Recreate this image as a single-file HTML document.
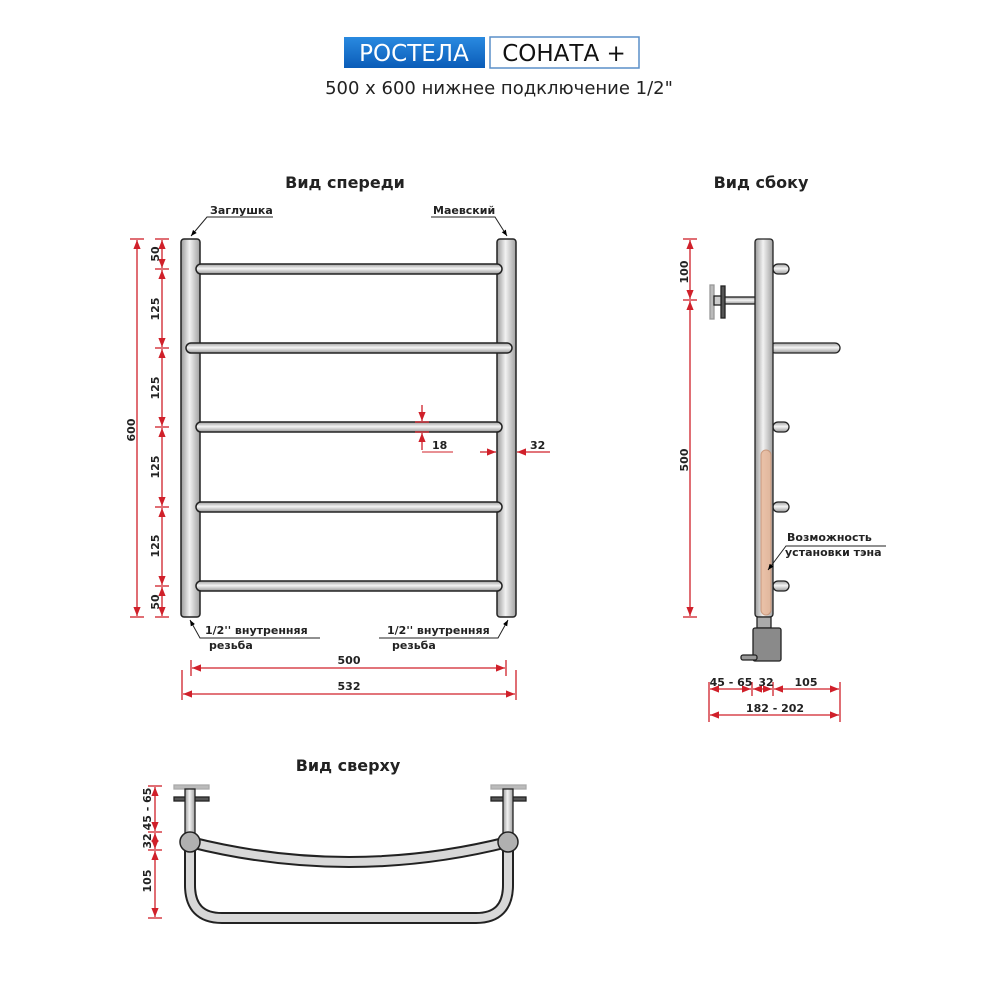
<!DOCTYPE html>
<html><head><meta charset="utf-8"><style>
html,body{margin:0;padding:0;background:#fff}
svg{display:block}
text{font-family:"DejaVu Sans","Liberation Sans",sans-serif}
</style></head><body>
<svg width="1000" height="1000" viewBox="0 0 1000 1000" xmlns="http://www.w3.org/2000/svg">
<defs>
<linearGradient id="gv" x1="0" x2="1" y1="0" y2="0">
<stop offset="0" stop-color="#9a9a9a"/><stop offset="0.45" stop-color="#f2f2f2"/><stop offset="1" stop-color="#a0a0a0"/></linearGradient>
<linearGradient id="gh" x1="0" x2="0" y1="0" y2="1">
<stop offset="0" stop-color="#a0a0a0"/><stop offset="0.45" stop-color="#f4f4f4"/><stop offset="1" stop-color="#9a9a9a"/></linearGradient>
<linearGradient id="gb" x1="0" x2="0" y1="0" y2="1">
<stop offset="0" stop-color="#2a8ae0"/><stop offset="1" stop-color="#0a5cb8"/></linearGradient>
<marker id="a" viewBox="0 0 10 10" refX="10" refY="5" markerWidth="7" markerHeight="7" orient="auto-start-reverse"><path d="M0,1 L10,5 L0,9 z" fill="#d0202a"/></marker>
<marker id="k" viewBox="0 0 10 10" refX="10" refY="5" markerWidth="6" markerHeight="6" orient="auto"><path d="M0,1 L10,5 L0,9 z" fill="#000"/></marker>
</defs>

<rect x="344" y="37" width="141" height="31" fill="url(#gb)"/>
<text x="414" y="61" font-size="23" fill="#fff" text-anchor="middle" font-family="Liberation Sans">РОСТЕЛА</text>
<rect x="490" y="37" width="149" height="31" fill="#fff" stroke="#5a8fc8" stroke-width="1.5"/>
<text x="564" y="61" font-size="23" fill="#111" text-anchor="middle" font-family="Liberation Sans">СОНАТА +</text>
<text x="499" y="94" font-size="18" fill="#222" text-anchor="middle">500 x 600 нижнее подключение 1/2"</text>

<text x="345" y="188" font-size="16" font-weight="bold" fill="#222" text-anchor="middle">Вид спереди</text>
<text x="761" y="188" font-size="16" font-weight="bold" fill="#222" text-anchor="middle">Вид сбоку</text>
<text x="348" y="771" font-size="16" font-weight="bold" fill="#222" text-anchor="middle">Вид сверху</text>

<g stroke="#222" stroke-width="1.5">
<rect x="181" y="239" width="19" height="378" rx="3" fill="url(#gv)"/>
<rect x="497" y="239" width="19" height="378" rx="3" fill="url(#gv)"/>
<rect x="196" y="264" width="306" height="10" rx="5" fill="url(#gh)"/>
<rect x="186" y="343" width="326" height="10" rx="5" fill="url(#gh)"/>
<rect x="196" y="422" width="306" height="10" rx="5" fill="url(#gh)"/>
<rect x="196" y="502" width="306" height="10" rx="5" fill="url(#gh)"/>
<rect x="196" y="581" width="306" height="10" rx="5" fill="url(#gh)"/>
</g>
<g stroke="#222" stroke-width="1" fill="none">
<polyline points="273,217 207,217 191,236" marker-end="url(#k)"/>
<polyline points="431,217 495,217 507,236" marker-end="url(#k)"/>
<polyline points="320,638 200,638 190,620" marker-end="url(#k)"/>
<polyline points="379,638 498,638 508,620" marker-end="url(#k)"/>
</g>
<text x="210" y="214" font-size="11" font-weight="bold" fill="#222">Заглушка</text>
<text x="433" y="214" font-size="11" font-weight="bold" fill="#222">Маевский</text>
<text x="205" y="634" font-size="11" font-weight="bold" fill="#222">1/2'' внутренняя</text>
<text x="209" y="649" font-size="11" font-weight="bold" fill="#222">резьба</text>
<text x="387" y="634" font-size="11" font-weight="bold" fill="#222">1/2'' внутренняя</text>
<text x="392" y="649" font-size="11" font-weight="bold" fill="#222">резьба</text>

<g stroke="#d0202a" stroke-width="1.3" fill="none">
<line x1="137" y1="240" x2="137" y2="616" marker-start="url(#a)" marker-end="url(#a)"/>
<line x1="130" y1="239" x2="144" y2="239"/><line x1="130" y1="617" x2="144" y2="617"/>
<line x1="162" y1="240" x2="162" y2="268" marker-start="url(#a)" marker-end="url(#a)"/>
<line x1="162" y1="270" x2="162" y2="347" marker-start="url(#a)" marker-end="url(#a)"/>
<line x1="162" y1="349" x2="162" y2="426" marker-start="url(#a)" marker-end="url(#a)"/>
<line x1="162" y1="428" x2="162" y2="506" marker-start="url(#a)" marker-end="url(#a)"/>
<line x1="162" y1="508" x2="162" y2="585" marker-start="url(#a)" marker-end="url(#a)"/>
<line x1="162" y1="587" x2="162" y2="616" marker-start="url(#a)" marker-end="url(#a)"/>
<line x1="155" y1="239" x2="169" y2="239"/><line x1="155" y1="269" x2="169" y2="269"/><line x1="155" y1="348" x2="169" y2="348"/><line x1="155" y1="427" x2="169" y2="427"/><line x1="155" y1="507" x2="169" y2="507"/><line x1="155" y1="586" x2="169" y2="586"/><line x1="155" y1="617" x2="169" y2="617"/>
<line x1="182" y1="670" x2="182" y2="700"/><line x1="516" y1="670" x2="516" y2="700"/>
<line x1="191" y1="660" x2="191" y2="676"/><line x1="506" y1="660" x2="506" y2="676"/>
<line x1="192" y1="668" x2="505" y2="668" marker-start="url(#a)" marker-end="url(#a)"/>
<line x1="183" y1="694" x2="515" y2="694" marker-start="url(#a)" marker-end="url(#a)"/>
<line x1="422" y1="405" x2="422" y2="421" marker-end="url(#a)"/>
<line x1="422" y1="450" x2="422" y2="433" marker-end="url(#a)"/>
<line x1="415" y1="422" x2="429" y2="422"/><line x1="415" y1="432" x2="429" y2="432"/>
<line x1="480" y1="452" x2="496" y2="452" marker-end="url(#a)"/>
<line x1="550" y1="452" x2="517" y2="452" marker-end="url(#a)"/>
</g>
<g stroke="#d0202a" stroke-width="1"><line x1="422" y1="452" x2="453" y2="452"/></g>
<text x="432" y="449" font-size="11" font-weight="bold" fill="#222">18</text>
<text x="530" y="449" font-size="11" font-weight="bold" fill="#222">32</text>
<text x="349" y="664" font-size="11" font-weight="bold" fill="#222" text-anchor="middle">500</text>
<text x="349" y="690" font-size="11" font-weight="bold" fill="#222" text-anchor="middle">532</text>
<g font-size="11" font-weight="bold" fill="#222" text-anchor="middle">
<text transform="translate(135,430) rotate(-90)">600</text>
<text transform="translate(159,254) rotate(-90)">50</text>
<text transform="translate(159,309) rotate(-90)">125</text>
<text transform="translate(159,388) rotate(-90)">125</text>
<text transform="translate(159,467) rotate(-90)">125</text>
<text transform="translate(159,546) rotate(-90)">125</text>
<text transform="translate(159,602) rotate(-90)">50</text>
</g>

<g stroke="#222" stroke-width="1.3">
<rect x="773" y="264" width="16" height="10" rx="5" fill="url(#gh)"/>
<rect x="770" y="343" width="70" height="10" rx="5" fill="url(#gh)"/>
<rect x="773" y="422" width="16" height="10" rx="5" fill="url(#gh)"/>
<rect x="773" y="502" width="16" height="10" rx="5" fill="url(#gh)"/>
<rect x="773" y="581" width="16" height="10" rx="5" fill="url(#gh)"/>
<rect x="724" y="297" width="32" height="7" fill="url(#gh)"/>
<rect x="710" y="285" width="4" height="34" fill="#bbb" stroke="#999"/>
<rect x="721" y="286" width="4" height="32" fill="#555"/>
<rect x="714" y="296" width="7" height="9" fill="#ccc"/>
<rect x="755" y="239" width="18" height="378" rx="3" fill="url(#gv)"/>
<rect x="757" y="617" width="14" height="11" fill="#aaa"/>
<rect x="753" y="628" width="28" height="33" rx="2" fill="#8a8a8a"/>
<rect x="741" y="655" width="16" height="5" rx="2" fill="#999"/>
</g>
<rect x="761" y="450" width="10" height="165" rx="5" fill="#e8b89a" stroke="#c89070" opacity="0.85"/>
<g stroke="#222" stroke-width="1" fill="none">
<polyline points="886,546 786,546 768,570" marker-end="url(#k)"/>
</g>
<text x="787" y="541" font-size="11" font-weight="bold" fill="#222">Возможность</text>
<text x="785" y="556" font-size="11" font-weight="bold" fill="#222">установки тэна</text>
<g stroke="#d0202a" stroke-width="1.3" fill="none">
<line x1="690" y1="240" x2="690" y2="299" marker-start="url(#a)" marker-end="url(#a)"/>
<line x1="690" y1="301" x2="690" y2="616" marker-start="url(#a)" marker-end="url(#a)"/>
<line x1="683" y1="239" x2="697" y2="239"/><line x1="683" y1="300" x2="697" y2="300"/><line x1="683" y1="617" x2="697" y2="617"/>
<line x1="710" y1="689" x2="751" y2="689" marker-start="url(#a)" marker-end="url(#a)"/>
<line x1="753" y1="689" x2="772" y2="689" marker-start="url(#a)" marker-end="url(#a)"/>
<line x1="774" y1="689" x2="839" y2="689" marker-start="url(#a)" marker-end="url(#a)"/>
<line x1="710" y1="715" x2="839" y2="715" marker-start="url(#a)" marker-end="url(#a)"/>
<line x1="709" y1="682" x2="709" y2="722"/><line x1="840" y1="682" x2="840" y2="722"/>
<line x1="752" y1="682" x2="752" y2="696"/><line x1="773" y1="682" x2="773" y2="696"/>
</g>
<g font-size="11" font-weight="bold" fill="#222" text-anchor="middle">
<text transform="translate(688,272) rotate(-90)">100</text>
<text transform="translate(688,460) rotate(-90)">500</text>
<text x="731" y="686">45 - 65</text><text x="766" y="686">32</text><text x="806" y="686">105</text>
<text x="775" y="712">182 - 202</text>
</g>

<g stroke="#222" stroke-width="1.3">
<rect x="174" y="785" width="35" height="4" fill="#bbb" stroke="#aaa"/>
<rect x="491" y="785" width="35" height="4" fill="#bbb" stroke="#aaa"/>
<rect x="174" y="797" width="35" height="4" fill="#555"/>
<rect x="491" y="797" width="35" height="4" fill="#555"/>
<rect x="185" y="789" width="10" height="45" fill="url(#gv)"/>
<rect x="503" y="789" width="10" height="45" fill="url(#gv)"/>
</g>
<path d="M190,842 L190,885 Q190,918 222,918 L476,918 Q508,918 508,885 L508,842" fill="none" stroke="#222" stroke-width="12"/>
<path d="M190,842 L190,885 Q190,918 222,918 L476,918 Q508,918 508,885 L508,842" fill="none" stroke="#d8d8d8" stroke-width="8"/>
<path d="M190,842 Q349,882 508,842" fill="none" stroke="#222" stroke-width="12"/>
<path d="M190,842 Q349,882 508,842" fill="none" stroke="#d8d8d8" stroke-width="8"/>
<circle cx="190" cy="842" r="10" fill="#b0b0b0" stroke="#222" stroke-width="1.5"/>
<circle cx="508" cy="842" r="10" fill="#b0b0b0" stroke="#222" stroke-width="1.5"/>
<g stroke="#d0202a" stroke-width="1.3" fill="none">
<line x1="155" y1="787" x2="155" y2="831" marker-start="url(#a)" marker-end="url(#a)"/>
<line x1="155" y1="833" x2="155" y2="849" marker-start="url(#a)" marker-end="url(#a)"/>
<line x1="155" y1="851" x2="155" y2="917" marker-start="url(#a)" marker-end="url(#a)"/>
<line x1="148" y1="786" x2="162" y2="786"/><line x1="148" y1="832" x2="162" y2="832"/><line x1="148" y1="850" x2="162" y2="850"/><line x1="148" y1="918" x2="162" y2="918"/>
</g>
<g font-size="11" font-weight="bold" fill="#222" text-anchor="middle">
<text transform="translate(151,809) rotate(-90)">45 - 65</text>
<text transform="translate(151,841) rotate(-90)">32</text>
<text transform="translate(151,881) rotate(-90)">105</text>
</g>
</svg>
</body></html>
